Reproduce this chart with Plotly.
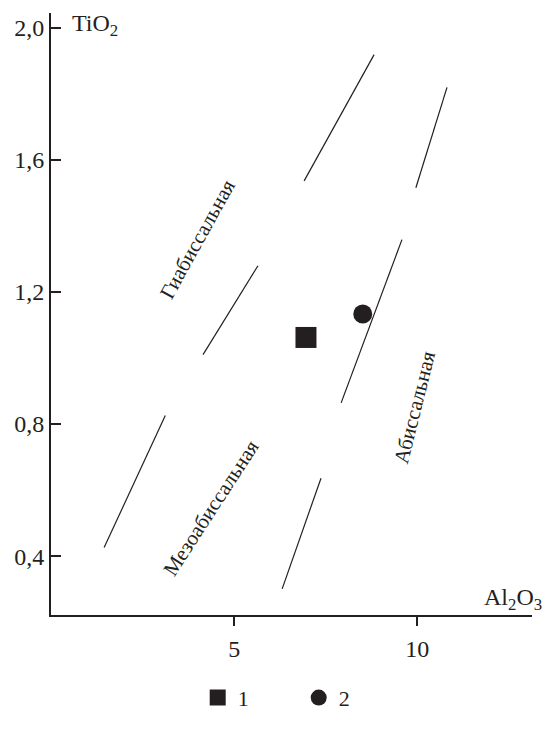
import plotly.graph_objects as go

# Data
# Boundary segments (x0, y0, x1, y1) in Al2O3 / TiO2 units
seg_x0 = [1.45, 4.15, 6.91, 6.31, 7.92, 9.96]
seg_y0 = [0.426, 1.010, 1.536, 0.301, 0.864, 1.515]
seg_x1 = [3.12, 5.65, 8.82, 7.37, 9.58, 10.81]
seg_y1 = [0.826, 1.279, 1.918, 0.636, 1.358, 1.819]

# Samples
s1_x = [6.96]
s1_y = [1.062]
s2_x = [8.51]
s2_y = [1.133]

# Field labels
field_names = ["Гиабиссальная", "Мезоабиссальная", "Абиссальная"]
field_x = [4.00, 4.37, 9.91]
field_y = [1.36, 0.545, 0.850]
field_angle = [-61, -57, -76]

y_ticks = [0.4, 0.8, 1.2, 1.6, 2.0]
y_ticktext = ["0,4", "0,8", "1,2", "1,6", "2,0"]
x_ticks = [5, 10]
x_ticktext = ["5", "10"]

INK = "#231f20"
FONT = "Liberation Serif, Times New Roman, serif"

lx, ly = [], []
for a, b, c, d in zip(seg_x0, seg_y0, seg_x1, seg_y1):
    lx += [a, c, None]
    ly += [b, d, None]

fig = go.Figure()
fig.add_trace(go.Scatter(x=lx, y=ly, mode="lines",
                         line=dict(color=INK, width=1.2),
                         showlegend=False, hoverinfo="skip"))
fig.add_trace(go.Scatter(x=s1_x, y=s1_y, mode="markers", name="1",
                         marker=dict(symbol="square", size=21, color=INK)))
fig.add_trace(go.Scatter(x=s2_x, y=s2_y, mode="markers", name="2",
                         marker=dict(symbol="circle", size=19, color=INK)))

for t, x, y, a in zip(field_names, field_x, field_y, field_angle):
    fig.add_annotation(x=x, y=y, text=t, textangle=a, showarrow=False,
                       font=dict(family=FONT, size=21, color=INK))

fig.add_annotation(xref="paper", yref="paper", x=0.040, y=1.0,
                   xanchor="left", yanchor="top", yshift=5,
                   text="TiO<sub>2</sub>", showarrow=False,
                   font=dict(family=FONT, size=24, color=INK))
fig.add_annotation(xref="paper", yref="paper", x=1.024, y=0.0,
                   xanchor="right", yanchor="bottom", yshift=-1,
                   text="Al<sub>2</sub>O<sub>3</sub>", showarrow=False,
                   font=dict(family=FONT, size=24, color=INK))

fig.update_xaxes(range=[0, 13.13], showgrid=False, zeroline=False,
                 showline=True, linecolor=INK, linewidth=2,
                 ticks="outside", ticklen=9, tickwidth=2, tickcolor=INK,
                 tickvals=x_ticks, ticktext=x_ticktext,
                 ticklabelstandoff=2,
                 tickfont=dict(family=FONT, size=24, color=INK))
fig.update_yaxes(range=[0.222, 2.044], showgrid=False, zeroline=False,
                 showline=True, linecolor=INK, linewidth=2,
                 ticks="inside", ticklen=10, tickwidth=2, tickcolor=INK,
                 tickvals=y_ticks, ticktext=y_ticktext,
                 tickfont=dict(family=FONT, size=24, color=INK))

fig.update_layout(width=547, height=731,
                  margin=dict(l=51, r=15, t=13, b=94),
                  paper_bgcolor="white", plot_bgcolor="white",
                  font=dict(family=FONT, color=INK),
                  legend=dict(orientation="h", x=0.305, y=-0.1026,
                              xanchor="left", yanchor="top",
                              font=dict(family=FONT, size=22, color=INK),
                              entrywidth=56, entrywidthmode="pixels",
                              tracegroupgap=0,
                              bgcolor="rgba(0,0,0,0)"))

fig.write_html("out.html")
